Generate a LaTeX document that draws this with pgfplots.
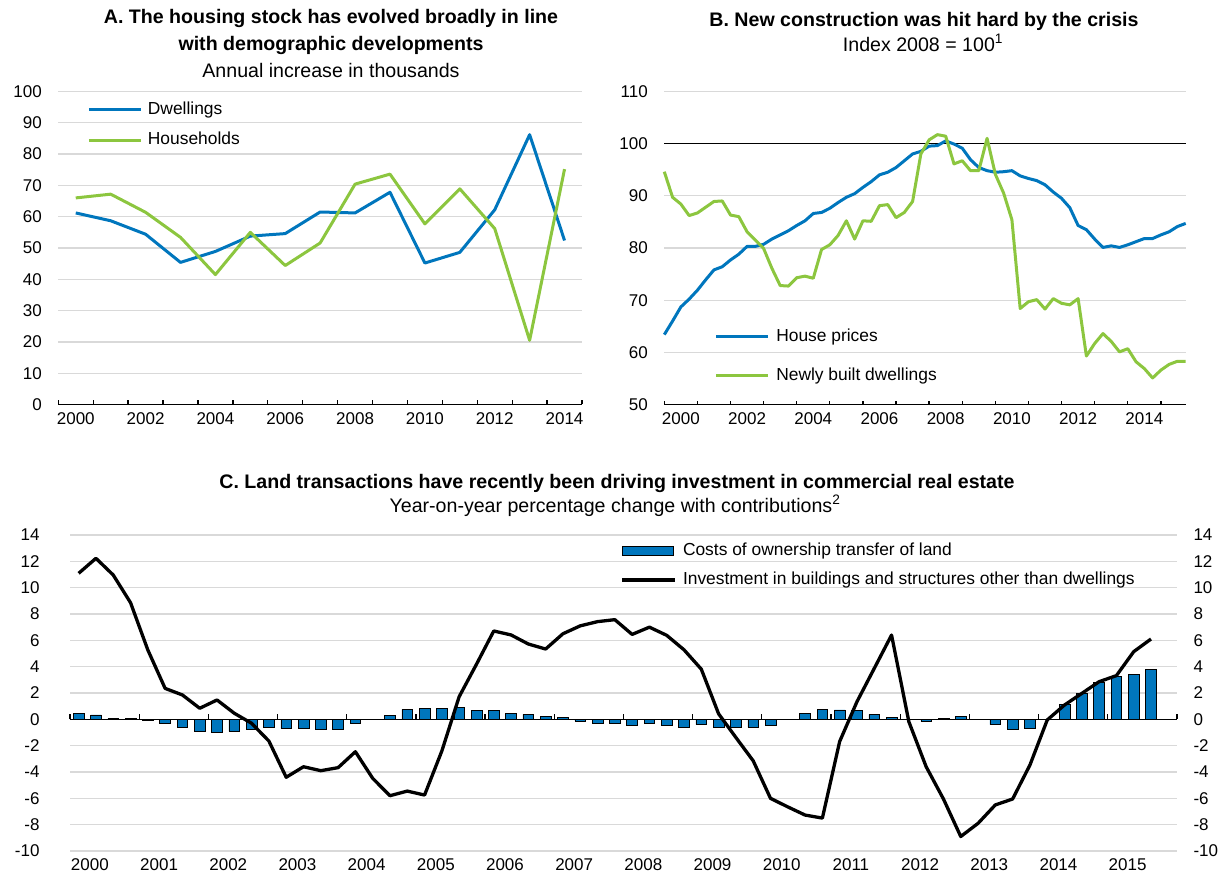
\documentclass[border=0pt]{standalone}
\usepackage{pgfplots}
\pgfplotsset{compat=1.18}
\usepackage{fontspec}
\setmainfont{Liberation Sans}
\definecolor{oblue}{RGB}{0,118,189}
\definecolor{ogreen}{RGB}{140,198,63}
\definecolor{ogrid}{RGB}{217,217,217}
\newcommand{\fs}{\fontsize{17}{20}\selectfont}
\newcommand{\fl}{\fontsize{17.4}{20}\selectfont}
\newcommand{\ft}{\fontsize{19.6}{23}\selectfont}
\pgfplotsset{
  base/.style={
    scale only axis,
    anchor=south west,
    font=\fs,
    ticklabel style={font=\fs},
    /pgf/number format/assume math mode=true,
    /pgf/number format/1000 sep={},
    ymajorgrids,
    grid style={ogrid, line width=1.3pt},
    tick align=inside,
    major tick length=4pt,
    tick style={black, line width=1.3pt},
    ytick style={draw=none},
    axis x line*=bottom,
    axis y line*=left,
    y axis line style={draw=none},
    x axis line style={black, line width=1.5pt, -},
    every outer x axis line/.append style={-},
    every outer y axis line/.append style={-},
    yticklabel style={xshift=-13pt},
    xticklabel style={yshift=-4.8pt},
    clip=false,
    legend cell align=left,
  },
  leg/.style={legend style={draw=none, fill=none, inner sep=0pt, outer sep=0pt,
      nodes={inner sep=0pt, text height=12.5pt, text depth=3.5pt, font=\fl},
      column sep=#1}},
}
\begin{document}
\begin{tikzpicture}
\path[use as bounding box] (0pt,0pt) rectangle (1222pt,873pt);

% Titles
\node[anchor=base, font=\bfseries\ft] at (331pt,849pt) {A. The housing stock has evolved broadly in line};
\node[anchor=base, font=\bfseries\ft] at (331pt,822pt) {with demographic developments};
\node[anchor=base, font=\ft] at (331pt,795pt) {Annual increase in thousands};
\node[anchor=base, font=\bfseries\ft] at (924pt,846.5pt) {B. New construction was hit hard by the crisis};
\node[anchor=base, font=\ft] at (923pt,821.5pt) {Index 2008 = 100\textsuperscript{1}};
\node[anchor=base, font=\bfseries\ft] at (617pt,384.5pt) {C. Land transactions have recently been driving investment in commercial real estate};
\node[anchor=base, font=\ft] at (615pt,360.5pt) {Year-on-year percentage change with contributions\textsuperscript{2}};

% Panel A
\begin{axis}[base, leg=5pt, at={(58.3pt,468.5pt)}, width=523.7pt, height=313pt,
  xmin=1999.5, xmax=2014.5, ymin=0, ymax=100, ytick={0,10,...,100},
  xtick={1999.5,2000.5,2001.5,2002.5,2003.5,2004.5,2005.5,2006.5,2007.5,2008.5,2009.5,2010.5,2011.5,2012.5,2013.5,2014.5},
  xticklabels={},
  extra x ticks={2000,2002,2004,2006,2008,2010,2012,2014},
  extra x tick labels={2000,2002,2004,2006,2008,2010,2012,2014},
  extra x tick style={major tick length=0pt, grid=none},
  legend style={at={(axis description cs:0.0556,0.967)}, anchor=north west, row sep=14.4pt},
  legend image code/.code={\draw[#1] (0pt,0pt) -- (52.5pt,0pt);},
]
\addplot[oblue, line width=3pt, line join=round] coordinates {
(2000,61.2) (2001,58.7) (2002,54.4) (2003,45.4) (2004,48.9) (2005,53.8) (2006,54.6) (2007,61.5)
(2008,61.2) (2009,67.8) (2010,45.2) (2011,48.6) (2012,62.2) (2013,86.2) (2014,52.4)};
\addlegendentry{Dwellings}
\addplot[ogreen, line width=3pt, line join=round] coordinates {
(2000,66.0) (2001,67.2) (2002,61.4) (2003,53.4) (2004,41.5) (2005,55.0) (2006,44.4) (2007,51.6)
(2008,70.4) (2009,73.6) (2010,57.7) (2011,68.9) (2012,56.2) (2013,20.5) (2014,75.2)};
\addlegendentry{Households}
\end{axis}

% Panel B
\begin{axis}[base, leg=6.6pt, at={(664.3pt,468.4pt)}, width=521.4pt, height=313.3pt,
  xmin=0, xmax=63, ymin=50, ymax=110, ytick={50,60,...,110},
  xtick={0,4,...,60}, xticklabels={},
  extra x ticks={2,10,18,26,34,42,50,58},
  extra x tick labels={2000,2002,2004,2006,2008,2010,2012,2014},
  extra x tick style={major tick length=0pt, grid=none},
  legend style={at={(axis description cs:0.0972,0.2423)}, anchor=north west, row sep=23.3pt},
  legend image code/.code={\draw[#1] (0pt,0pt) -- (51.7pt,0pt);},
]
\addplot[black, line width=1.2pt, forget plot] coordinates {(0,100) (63,100)};
\addplot[oblue, line width=3pt, line join=round] coordinates {
(0,63.4) (1,66.0) (2,68.7) (3,70.2) (4,71.9) (5,73.9) (6,75.8) (7,76.4)
(8,77.7) (9,78.8) (10,80.3) (11,80.3) (12,80.7) (13,81.7) (14,82.5) (15,83.3)
(16,84.3) (17,85.2) (18,86.6) (19,86.8) (20,87.6) (21,88.7) (22,89.7) (23,90.4)
(24,91.6) (25,92.7) (26,94.0) (27,94.5) (28,95.4) (29,96.7) (30,98.0) (31,98.5)
(32,99.5) (33,99.6) (34,100.5) (35,99.9) (36,99.1) (37,96.9) (38,95.4) (39,94.8)
(40,94.5) (41,94.6) (42,94.8) (43,93.8) (44,93.3) (45,92.9) (46,92.1) (47,90.7)
(48,89.5) (49,87.7) (50,84.3) (51,83.5) (52,81.7) (53,80.1) (54,80.4) (55,80.1)
(56,80.6) (57,81.2) (58,81.8) (59,81.8) (60,82.5) (61,83.1) (62,84.1) (63,84.7)};
\addlegendentry{House prices}
\addplot[ogreen, line width=3pt, line join=round] coordinates {
(0,94.6) (1,89.7) (2,88.4) (3,86.2) (4,86.7) (5,87.8) (6,88.9) (7,89.0)
(8,86.3) (9,86.0) (10,83.1) (11,81.5) (12,79.9) (13,76.1) (14,72.8) (15,72.7)
(16,74.3) (17,74.6) (18,74.2) (19,79.7) (20,80.6) (21,82.4) (22,85.2) (23,81.7)
(24,85.2) (25,85.1) (26,88.1) (27,88.3) (28,85.8) (29,86.8) (30,88.9) (31,98.0)
(32,100.7) (33,101.7) (34,101.4) (35,96.1) (36,96.7) (37,94.8) (38,94.8) (39,101.0)
(40,94.1) (41,90.5) (42,85.4) (43,68.4) (44,69.7) (45,70.1) (46,68.3) (47,70.3)
(48,69.4) (49,69.1) (50,70.3) (51,59.3) (52,61.7) (53,63.6) (54,62.1) (55,60.1)
(56,60.7) (57,58.2) (58,56.9) (59,55.1) (60,56.6) (61,57.7) (62,58.3) (63,58.3)};
\addlegendentry{Newly built dwellings}
\end{axis}

% Panel C main
\begin{axis}[base, leg=6pt, at={(70pt,22pt)}, width=1107pt, height=316pt,
  xmin=0, xmax=64, ymin=-10, ymax=14, ytick={-10,-8,...,14},
  x axis line style={draw=none}, xtick style={draw=none},
  xtick={1.15,5.15,9.15,13.15,17.15,21.15,25.15,29.15,33.15,37.15,41.15,45.15,49.15,53.15,57.15,61.15},
  xticklabels={2000,2001,2002,2003,2004,2005,2006,2007,2008,2009,2010,2011,2012,2013,2014,2015},
  xticklabel style={inner sep=0pt, yshift=-2.5pt},
  yticklabel style={xshift=-14pt},
  legend style={at={(axis description cs:0.4975,0.9747)}, anchor=north west, row sep=13pt},
]
\addplot[ybar, bar width=10.7pt, bar shift=0pt, fill=oblue, draw=black, line width=0.6pt,
  legend image code/.code={\draw[fill=oblue, draw=black, line width=0.6pt] (0pt,-4.6pt) rectangle (51pt,4.6pt);}]
 coordinates {
(0.5,0.43) (1.5,0.33) (2.5,0.08) (3.5,0.10) (4.5,-0.05) (5.5,-0.33) (6.5,-0.60) (7.5,-0.94)
(8.5,-0.96) (9.5,-0.91) (10.5,-0.76) (11.5,-0.58) (12.5,-0.68) (13.5,-0.68) (14.5,-0.73) (15.5,-0.73)
(16.5,-0.33) (17.5,-0.03) (18.5,0.30) (19.5,0.76) (20.5,0.81) (21.5,0.86) (22.5,0.88) (23.5,0.70)
(24.5,0.65) (25.5,0.48) (26.5,0.38) (27.5,0.22) (28.5,0.12) (29.5,-0.12) (30.5,-0.30) (31.5,-0.30)
(32.5,-0.44) (33.5,-0.29) (34.5,-0.45) (35.5,-0.58) (36.5,-0.40) (37.5,-0.58) (38.5,-0.63) (39.5,-0.61)
(40.5,-0.42) (41.5,0.02) (42.5,0.48) (43.5,0.78) (44.5,0.71) (45.5,0.66) (46.5,0.38) (47.5,0.15)
(48.5,-0.02) (49.5,-0.15) (50.5,0.05) (51.5,0.20) (52.5,0.00) (53.5,-0.40) (54.5,-0.73) (55.5,-0.71)
(56.5,0.00) (57.5,1.14) (58.5,1.97) (59.5,2.81) (60.5,3.29) (61.5,3.44) (62.5,3.82)};
\addlegendentry{Costs of ownership transfer of land}
\addplot[black, line width=3.3pt, line join=round,
  legend image code/.code={\draw[black, line width=3.3pt] (0pt,0pt) -- (53pt,0pt);}]
 coordinates {
(0.5,11.09) (1.5,12.23) (2.5,10.96) (3.5,8.86) (4.5,5.27) (5.5,2.35) (6.5,1.85) (7.5,0.84)
(8.5,1.47) (9.5,0.46) (10.5,-0.30) (11.5,-1.65) (12.5,-4.40) (13.5,-3.60) (14.5,-3.90) (15.5,-3.67)
(16.5,-2.46) (17.5,-4.48) (18.5,-5.80) (19.5,-5.45) (20.5,-5.75) (21.5,-2.40) (22.5,1.72) (23.5,4.18)
(24.5,6.71) (25.5,6.41) (26.5,5.72) (27.5,5.34) (28.5,6.50) (29.5,7.10) (30.5,7.42) (31.5,7.57)
(32.5,6.45) (33.5,7.00) (34.5,6.38) (35.5,5.28) (36.5,3.81) (37.5,0.42) (38.5,-1.38) (39.5,-3.15)
(40.5,-6.00) (41.5,-6.65) (42.5,-7.27) (43.5,-7.50) (44.5,-1.68) (45.5,1.34) (46.5,3.87) (47.5,6.40)
(48.5,-0.18) (49.5,-3.60) (50.5,-6.05) (51.5,-8.90) (52.5,-7.90) (53.5,-6.50) (54.5,-6.05) (55.5,-3.47)
(56.5,-0.05) (57.5,1.09) (58.5,1.97) (59.5,2.86) (60.5,3.32) (61.5,5.14) (62.5,6.10)};
\addlegendentry{Investment in buildings and structures other than dwellings}
\end{axis}

% Panel C zero axis with ticks
\begin{axis}[scale only axis, anchor=south west, at={(70pt,153.6pt)}, width=1107pt, height=20pt,
  xmin=0, xmax=64, ymin=0, ymax=1,
  axis x line*=bottom, axis y line=none,
  x axis line style={black, line width=1.5pt, -},
  every outer x axis line/.append style={-},
  xtick={0,4,...,64}, xticklabels={}, ytick=\empty,
  tick align=inside, major tick length=5pt, xtick style={black, line width=1.3pt}]
\end{axis}

% Panel C right labels
\begin{axis}[scale only axis, anchor=south west, at={(70pt,22pt)}, width=1107pt, height=316pt,
  xmin=0, xmax=64, ymin=-10, ymax=14, ytick={-10,-8,...,14},
  axis y line*=right, axis x line=none, xtick=\empty,
  y axis line style={draw=none}, ytick style={draw=none},
  every outer y axis line/.append style={-},
  ticklabel style={font=\fs},
  /pgf/number format/assume math mode=true,
  yticklabel style={anchor=west, xshift=13pt}]
\end{axis}
\end{tikzpicture}
\end{document}
